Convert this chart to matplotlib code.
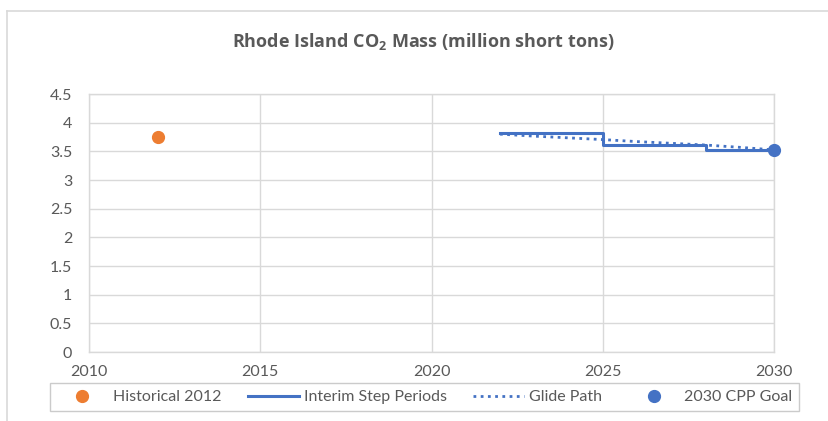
import matplotlib
matplotlib.use('Agg')
import matplotlib.pyplot as plt
from matplotlib.lines import Line2D

plt.rcParams['font.family'] = ['Lato', 'DejaVu Sans']
plt.rcParams['mathtext.fontset'] = 'custom'
plt.rcParams['mathtext.rm'] = 'Open Sans'
plt.rcParams['mathtext.bf'] = 'Open Sans:bold'

# Datos
hist_year = [2012]
hist_value = [3.745]

step_years = [2022, 2025, 2028, 2030]
step_values = [3.815, 3.61, 3.53, 3.53]

glide_years = [2022, 2023, 2024, 2025, 2026, 2027, 2028, 2029, 2030]
glide_values = [3.80, 3.765, 3.735, 3.705, 3.67, 3.64, 3.61, 3.57, 3.525]

goal_year = [2030]
goal_value = [3.525]

x_ticks = [2010, 2015, 2020, 2025, 2030]
y_ticks = [0, 0.5, 1, 1.5, 2, 2.5, 3, 3.5, 4, 4.5]

blue = '#4472C4'
orange = '#ED7D31'
grid_c = '#d9d9d9'
text_c = '#595959'

W, H = 829, 421
fig = plt.figure(figsize=(W / 100, H / 100), dpi=100)
ax = fig.add_axes([89 / W, 1 - 352 / H, (774 - 89) / W, (352 - 94) / H])

ax.plot(hist_year, hist_value, 'o', color=orange, markersize=8.5,
        label='Historical 2012', zorder=4)
ax.plot(step_years, step_values, drawstyle='steps-post', color=blue,
        linewidth=2.2, label='Interim Step Periods', zorder=3)
ax.plot(glide_years, glide_values, color=blue, linewidth=2,
        linestyle=(0, (1, 1.6)), label='Glide Path', zorder=3)
ax.plot(goal_year, goal_value, 'o', color=blue, markersize=8.5,
        label='2030 CPP Goal', zorder=5, clip_on=False)

ax.set_xlim(2010, 2030)
ax.set_ylim(0, 4.5)
ax.set_xticks(x_ticks)
ax.set_yticks(y_ticks)
ax.set_yticklabels([f'{v:g}' for v in y_ticks])
ax.grid(True, color=grid_c, linewidth=1)
ax.set_axisbelow(True)
for s in ax.spines.values():
    s.set_color(grid_c)
    s.set_linewidth(1)
ax.tick_params(axis='both', length=0, labelsize=11.5, labelcolor=text_c)
ax.tick_params(axis='x', pad=9)
ax.tick_params(axis='y', pad=12)

fig.text(423 / W, 1 - 41 / H, r'Rhode Island CO$_\mathbf{2}$ Mass (million short tons)',
         ha='center', va='center', fontsize=13, fontweight='bold', color=text_c,
         family='Open Sans')

leg = fig.legend(loc='center', bbox_to_anchor=(424.5 / W, 1 - 397 / H), ncol=4,
                 frameon=True, fancybox=False, fontsize=11.5, handlelength=3.2,
                 handletextpad=0.3, columnspacing=1.65, borderpad=0.45,
                 labelcolor=text_c)
leg.get_frame().set_edgecolor('#bfbfbf')
leg.get_frame().set_linewidth(1)

# borde exterior del gráfico
fig.add_artist(Line2D([7 / W, 1], [1 - 11 / H, 1 - 11 / H], transform=fig.transFigure,
                      color=grid_c, linewidth=1.2))
fig.add_artist(Line2D([7 / W, 7 / W], [0, 1 - 11 / H], transform=fig.transFigure,
                      color=grid_c, linewidth=1.2))

fig.savefig('out.png', dpi=100)
